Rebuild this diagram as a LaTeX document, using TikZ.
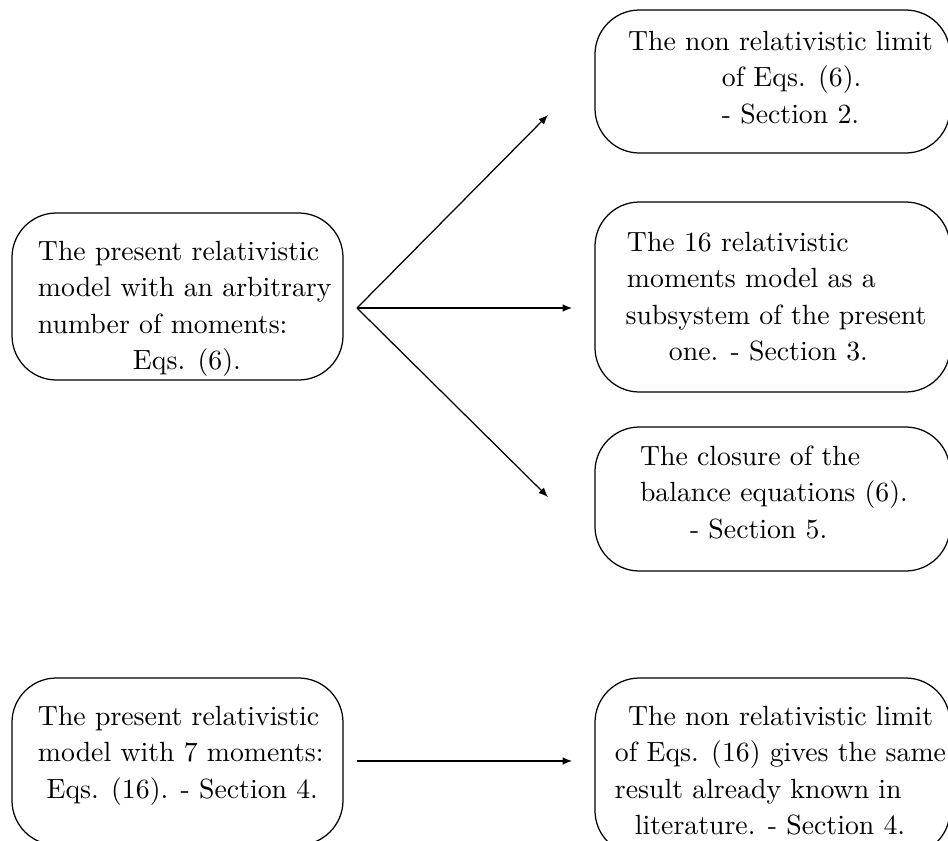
\documentclass[tikz,border=0pt]{standalone}
\usetikzlibrary{arrows.meta}
\renewcommand{\arraystretch}{1.095}
\begin{document}
\begin{tikzpicture}[x=0.36pt,y=-0.36pt,
  box/.style={draw, line width=0.45pt, rounded corners=16pt, inner sep=0pt, outer sep=0pt},
  txt/.style={anchor=base west, inner sep=0pt, outer sep=0pt},
  arr/.style={-{Latex[length=3.4pt,width=2.8pt]}, line width=0.45pt}]
\path[use as bounding box, clip] (0,0) rectangle (948,841);

% boxes
\node[box, minimum width=331*0.36pt, minimum height=167*0.36pt] (A) at (177.5,296.5) {};
\node[box, minimum width=355*0.36pt, minimum height=143*0.36pt] (B) at (772.5,81.5) {};
\node[box, minimum width=355*0.36pt, minimum height=190*0.36pt] (C) at (772.5,297) {};
\node[box, minimum width=355*0.36pt, minimum height=144*0.36pt] (D) at (772.5,499) {};
\node[box, minimum width=331*0.36pt, minimum height=167*0.36pt] (E) at (177.5,761.5) {};
\node[box, minimum width=355*0.36pt, minimum height=177*0.36pt] (F) at (772.5,766.5) {};

% texts
\node[txt] (At) at (38,260) {\begin{tabular}[t]{@{}l@{}}The present relativistic\\ model with an arbitrary\\ number of moments:\\ \hspace*{34.2pt}Eqs. (6).\end{tabular}};
\node[txt] (Bt) at (628,50) {\begin{tabular}[t]{@{}l@{}}The non relativistic limit\\ \hspace*{33.8pt}of Eqs. (6).\\ \hspace*{33.8pt}- Section 2.\end{tabular}};
\node[txt] (Ct) at (627,251) {\begin{tabular}[t]{@{}l@{}}The 16 relativistic\\ moments model as a\\ \hspace*{-0.5pt}subsystem of the present\\ \hspace*{15.1pt}one. - Section 3.\end{tabular}};
\node[txt] (Dt) at (640,465) {\begin{tabular}[t]{@{}l@{}}The closure of the\\ balance equations (6).\\ \hspace*{18pt}- Section 5.\end{tabular}};
\node[txt] (Et) at (38,725) {\begin{tabular}[t]{@{}l@{}}The present relativistic\\ model with 7 moments:\\ \hspace*{3.1pt}Eqs. (16). - Section 4.\end{tabular}};
\node[txt] (Ft) at (615,725) {\begin{tabular}[t]{@{}l@{}}\hspace*{4.7pt}The non relativistic limit\\ of Eqs. (16) gives the same\\ result already known in\\ \hspace*{7.2pt}literature. - Section 4.\end{tabular}};

% connector ends
\coordinate (fork) at (357,308);
\coordinate (toB) at (548,115);
\coordinate (toC) at (572,308);
\coordinate (toD) at (548,497);
\coordinate (fromE) at (357,761);
\coordinate (toF) at (572,761);

\draw[arr] (fork) -- (toB);
\draw[arr] (fork) -- (toC);
\draw[arr] (fork) -- (toD);
\draw[arr] (fromE) -- (toF);
\end{tikzpicture}
\end{document}
